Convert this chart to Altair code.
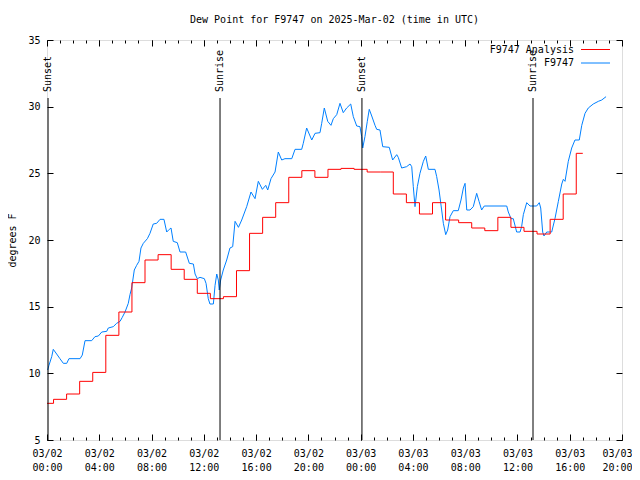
import altair as alt
import pandas as pd

# ---- data ----
obs_hours = [0.05, 0.15, 0.36, 0.48, 0.74, 0.99, 1.25, 1.51, 1.68, 2.53, 2.70, 2.91, 3.42, 3.67, 3.93,
             4.19, 4.57, 4.69, 5.07, 5.33, 5.59, 5.76, 5.97, 6.22, 6.35, 6.48, 6.68, 6.86, 7.04, 7.19,
             7.37, 7.68, 7.88, 8.13, 8.39, 8.65, 8.95, 9.16, 9.36, 9.49, 9.66, 9.97, 10.18, 10.61, 10.89,
             11.20, 11.33, 11.50, 11.71, 12.04, 12.17, 12.34, 12.47, 12.73, 12.86, 12.99, 13.11, 13.18,
             13.29, 13.49, 13.75, 14.00, 14.21, 14.39, 14.65, 14.90, 15.28, 15.61, 15.92, 16.17, 16.48,
             16.74, 16.89, 17.14, 17.45, 17.70, 17.96, 18.21, 18.73, 18.98, 19.49, 19.61, 19.87, 20.26,
             20.51, 20.89, 21.02, 21.22, 21.48, 21.73, 21.91, 22.17, 22.42, 22.67, 22.93, 23.24, 23.44,
             23.70, 23.95, 24.08, 24.16, 24.33, 24.51, 24.66, 24.85, 25.10, 25.23, 25.48, 25.69, 26.19,
             26.45, 26.76, 26.88, 27.14, 27.52, 27.78, 27.91, 28.03, 28.16, 28.34, 28.54, 28.80, 28.98,
             29.18, 29.69, 29.82, 30.00, 30.20, 30.33, 30.51, 30.66, 30.84, 31.09, 31.47, 31.68, 31.86,
             31.99, 32.12, 32.37, 32.62, 32.88, 33.06, 33.26, 33.46, 35.18, 35.30, 35.51, 35.68, 35.94,
             36.20, 36.32, 36.45, 36.71, 36.96, 37.47, 37.67, 37.78, 37.93, 38.03, 38.24, 38.62, 38.87,
             39.13, 39.39, 39.51, 39.64, 39.89, 40.15, 40.40, 40.73, 40.92, 41.17, 41.42, 41.80, 42.19,
             42.45, 42.78]
obs_dewpt = [10.25, 10.6, 11.25, 11.8, 11.45, 11.1, 10.75, 10.75, 11.1, 11.1, 11.37, 12.45, 12.45, 12.75, 12.8,
             13.1, 13.15, 13.4, 13.5, 13.75, 13.9, 14.2, 14.6, 15.25, 15.9, 16.4, 17.75, 18.1, 18.4, 19.4,
             19.75, 20.1, 20.5, 21.2, 21.25, 21.55, 21.55, 20.6, 20.8, 20.9, 19.9, 19.8, 19.1, 19.1, 18.25,
             18.2, 17.45, 17.1, 17.2, 17.1, 16.75, 15.6, 15.2, 15.2, 16.6, 17.45, 17.0, 16.25,
             17.0, 17.75, 18.5, 19.4, 19.5, 21.4, 20.95, 21.5, 22.5, 23.6, 23.1, 24.4, 23.8,
             24.1, 23.75, 24.6, 25.1, 26.6, 26.0, 26.1, 26.1, 26.8, 26.8, 27.25, 28.4, 27.5,
             28.0, 28.05, 28.75, 29.9, 28.9, 28.6, 29.1, 29.4, 30.25, 29.55, 29.9, 30.2, 29.25,
             28.55, 28.5, 27.75, 26.9, 27.75, 28.9, 29.8, 29.3, 28.6, 28.3, 28.25, 27.0, 26.95,
             26.0, 26.4, 26.2, 25.4, 25.5, 25.7, 25.5, 24.0, 22.5, 24.0, 25.0, 25.9, 26.3,
             25.3, 25.3, 24.75, 23.75, 22.25, 21.25, 20.4, 20.75, 21.75, 22.2, 22.2, 23.0, 23.9,
             24.25, 22.25, 22.25, 22.5, 23.5, 22.9, 22.25, 22.55, 22.55, 22.1, 21.6, 21.6, 20.6,
             20.6, 21.0, 21.9, 22.8, 22.55, 22.55, 22.8, 22.4, 20.6, 20.3, 20.6, 20.6, 21.6,
             22.9, 24.2, 24.55, 24.4, 25.9, 26.9, 27.5, 27.5, 28.6, 29.5, 29.9, 30.2, 30.4,
             30.5, 30.75]

ana_hours = list(range(42))
ana_dewpt = [7.75, 8.05, 8.45, 9.4, 10.07, 12.85, 14.6, 16.8, 18.5, 18.9,
             17.8, 17.05, 16.0, 15.6, 15.75, 17.7, 20.5, 21.7, 22.8, 24.7,
             25.2, 24.7, 25.3, 25.37, 25.3, 25.1, 25.1, 23.45, 22.8, 21.95,
             22.8, 21.5, 21.3, 20.9, 20.7, 21.7, 20.95, 20.65, 20.45, 21.55,
             23.45, 26.5]

event_names = ["Sunset", "Sunrise", "Sunset", "Sunrise"]
event_hours = [0.08, 13.24, 24.1, 37.19]

series_names = ["F9747 Analysis", "F9747"]
series_colors = ["#ff0000", "#0080ff"]

x_major = list(range(0, 45, 4))
x_minor = list(range(0, 45))
y_major = [5, 10, 15, 20, 25, 30, 35]

obs = pd.DataFrame({"h": obs_hours, "v": obs_dewpt})
ana = pd.DataFrame({"h": ana_hours, "v": ana_dewpt})
events = pd.DataFrame({"name": event_names, "h": event_hours})
leg = pd.DataFrame({"name": series_names, "color": series_colors})

FONT = "DejaVu Sans Mono"
xs = alt.Scale(domain=[0, 44], nice=False, zero=False)
ys = alt.Scale(domain=[5, 35], nice=False, zero=False)

label_expr = ("[datum.value < 24 ? '03/02' : '03/03', "
              "(datum.value % 24 < 10 ? '0' : '') + (datum.value % 24) + ':00']")


def tick_axis(orient, values, size):
    return alt.Axis(orient=orient, values=values, tickSize=size, offset=-size, labels=False,
                    domain=False, grid=False, title=None, ticks=True, tickColor="black", tickWidth=1)


x_label_axis = alt.Axis(orient="bottom", values=x_major, labelExpr=label_expr, ticks=False, tickSize=0,
                        domain=False, grid=False, title=None, labelFont=FONT, labelFontSize=10,
                        labelColor="black", labelPadding=8, labelLineHeight=14, labelBaseline="top",
                        labelAlign={"condition": {"test": "datum.value >= 44", "value": "right"},
                                    "value": "center"},
                        labelOffset={"condition": {"test": "datum.value >= 44", "value": 10},
                                     "value": 0},
                        labelFlush=False, labelOverlap=False, labelBound=False)
y_label_axis = alt.Axis(orient="left", values=y_major, ticks=False, tickSize=0, domain=False, grid=False,
                        title="degrees F", labelFont=FONT, labelFontSize=10, labelColor="black",
                        labelPadding=7, labelFlush=False, labelOverlap=False,
                        titleFont=FONT, titleFontSize=10, titleFontWeight="normal", titleColor="black",
                        titleX=-35, titleY=200, titleAngle=270, titleAlign="center", titleBaseline="middle")

blue = alt.Chart(obs).mark_line(color=series_colors[1], strokeWidth=1).encode(
    x=alt.X("h:Q", scale=xs, axis=x_label_axis),
    y=alt.Y("v:Q", scale=ys, axis=y_label_axis),
)

red = alt.Chart(ana).mark_line(color=series_colors[0], strokeWidth=1, interpolate="step").encode(
    x=alt.X("h:Q", scale=xs, axis=tick_axis("bottom", x_major, 6)),
    y=alt.Y("v:Q", scale=ys, axis=tick_axis("left", y_major, 6)),
)

ghost = alt.Chart(obs).mark_line(opacity=0).encode(
    x=alt.X("h:Q", scale=xs, axis=tick_axis("top", x_minor, 3)),
    y=alt.Y("v:Q", scale=ys, axis=tick_axis("right", y_major, 6)),
)

rules = alt.Chart(events).mark_rule(color="black", strokeWidth=1).encode(
    x=alt.X("h:Q", scale=xs, axis=tick_axis("bottom", x_minor, 3)),
    y=alt.value(58),
    y2=alt.value(400),
)

rule_text = alt.Chart(events).mark_text(angle=270, align="left", baseline="middle", font=FONT,
                                         fontSize=10, color="black").encode(
    x=alt.X("h:Q", scale=xs, axis=tick_axis("top", x_major, 6)),
    y=alt.value(52),
    text="name:N",
)

legend_layers = []
for i, nm in enumerate(series_names):
    base = alt.Chart(leg).transform_filter(alt.datum.name == nm)
    ypix = 9.5 + 13.5 * i
    legend_layers.append(base.mark_text(align="right", baseline="middle", font=FONT, fontSize=10,
                                        color="black").encode(
        x=alt.value(527), y=alt.value(ypix), text="name:N"))
    legend_layers.append(base.mark_rule(strokeWidth=1).encode(
        x=alt.value(534), x2=alt.value(563), y=alt.value(ypix),
        color=alt.Color("color:N", scale=None)))

chart = alt.layer(blue, red, ghost, rules, rule_text, *legend_layers).resolve_axis(
    x="independent", y="independent"
).properties(
    width=575, height=400,
    title=alt.TitleParams("Dew Point for F9747 on 2025-Mar-02 (time in UTC)", font=FONT, fontSize=10,
                          fontWeight="normal", anchor="middle", offset=10, color="black"),
    padding={"left": 39, "top": 32, "right": 10, "bottom": 32},
    autosize=alt.AutoSizeParams(type="none"),
).configure_view(stroke="black", strokeWidth=1).configure(background="white")

chart.save("out.html", embed_options={"renderer": "svg", "actions": False})
